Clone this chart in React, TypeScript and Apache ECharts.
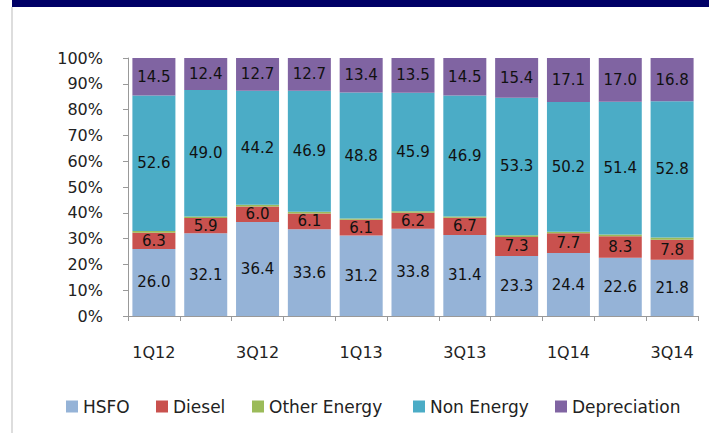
import React, { useEffect, useRef } from "react";
import * as echarts from "echarts";

const categories = ["1Q12", "2Q12", "3Q12", "4Q12", "1Q13", "2Q13", "3Q13", "4Q13", "1Q14", "2Q14", "3Q14"];
const hsfo = [26.0, 32.1, 36.4, 33.6, 31.2, 33.8, 31.4, 23.3, 24.4, 22.6, 21.8];
const diesel = [6.3, 5.9, 6.0, 6.1, 6.1, 6.2, 6.7, 7.3, 7.7, 8.3, 7.8];
const otherEnergy = [0.6, 0.6, 0.7, 0.7, 0.5, 0.6, 0.5, 0.7, 0.6, 0.7, 0.8];
const nonEnergy = [52.6, 49.0, 44.2, 46.9, 48.8, 45.9, 46.9, 53.3, 50.2, 51.4, 52.8];
const depreciation = [14.5, 12.4, 12.7, 12.7, 13.4, 13.5, 14.5, 15.4, 17.1, 17.0, 16.8];

const seriesNames = ["HSFO", "Diesel", "Other Energy", "Non Energy", "Depreciation"];
const colors = ["#95B3D7", "#C9514E", "#9BBB59", "#4BACC6", "#8064A2"];
const legendLefts = [66, 156, 252, 413, 555];

export default function App() {
  const ref = useRef<HTMLDivElement>(null);
  useEffect(() => {
    if (!ref.current) return;
    const chart = echarts.init(ref.current, undefined, { renderer: "svg" });
    const font = "DejaVu Sans";
    const dataSets = [hsfo, diesel, otherEnergy, nonEnergy, depreciation];
    const series = seriesNames.map((name, i) => ({
      name,
      type: "bar",
      stack: "total",
      barWidth: "83%",
      itemStyle: { color: colors[i] },
      label: {
        show: name !== "Other Energy",
        position: "inside",
        color: "#111",
        fontFamily: font,
        fontSize: 15,
        formatter: (p: any) => Number(p.value).toFixed(1),
      },
      data: dataSets[i],
    }));
    chart.setOption({
      animation: false,
      backgroundColor: "#ffffff",
      color: colors,
      grid: { left: 128, right: 11, top: 58, bottom: 117, containLabel: false },
      legend: seriesNames.map((name, i) => ({
        data: [name],
        left: legendLefts[i],
        top: 398,
        padding: 0,
        icon: "rect",
        itemWidth: 12,
        itemHeight: 12,
        textStyle: { fontFamily: font, fontSize: 17, color: "#222" },
        selectedMode: false,
      })),
      xAxis: {
        type: "category",
        data: categories,
        axisLine: { lineStyle: { color: "#999", width: 1 } },
        axisTick: { show: true, interval: 0, length: 5, lineStyle: { color: "#999" } },
        axisLabel: { interval: 1, margin: 28, fontFamily: font, fontSize: 16, color: "#222" },
      },
      yAxis: {
        type: "value",
        min: 0,
        max: 100,
        interval: 10,
        splitLine: { show: false },
        axisLine: { show: true, lineStyle: { color: "#999", width: 1 } },
        axisTick: { show: true, length: 5, lineStyle: { color: "#999" } },
        axisLabel: { formatter: "{value}%", margin: 25, fontFamily: font, fontSize: 16, color: "#222" },
      },
      graphic: [
        { type: "rect", shape: { x: 12, y: 0, width: 697, height: 7 }, style: { fill: "#000066" } },
        { type: "rect", shape: { x: 11, y: 7, width: 2, height: 426 }, style: { fill: "#dddddd" } },
      ],
      series,
    });
    return () => chart.dispose();
  }, []);
  return <div ref={ref} style={{ position: "absolute", left: 0, top: 0, width: 709, height: 433 }} />;
}
